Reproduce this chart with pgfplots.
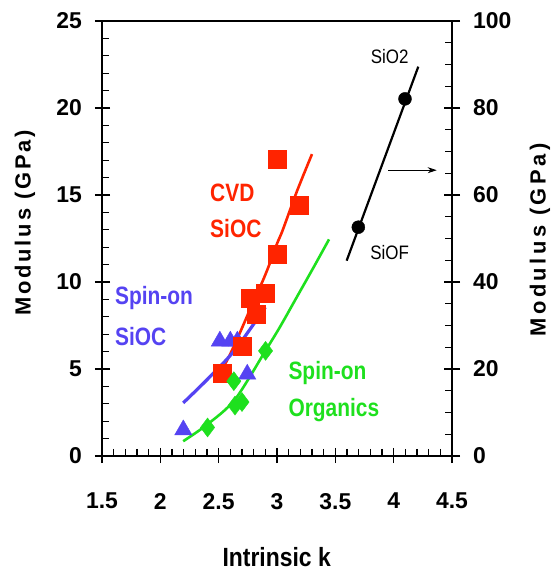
\documentclass[border=0pt]{standalone}
\usepackage{fontspec}
\setmainfont{Liberation Sans}
\usepackage{pgfplots}
\pgfplotsset{compat=1.18}
\usetikzlibrary{arrows.meta}
\definecolor{cvdred}{HTML}{FF2400}
\definecolor{soblue}{HTML}{5543F2}
\definecolor{orggreen}{HTML}{1EE01E}

\begin{document}
\begin{tikzpicture}
\useasboundingbox (-102bp,-115bp) rectangle (453bp,456bp);
\pgfplotsset{
  modaxis/.style={
    at={(0,0)}, anchor=south west,
    scale only axis, width=350bp, height=435bp,
    xmin=1.5, xmax=4.5,
    axis line style={line width=1.6bp},
    tick style={line width=1.3bp, black},
    /pgf/number format/assume math mode=true,
    ticklabel style={font=\fontsize{23}{26}\selectfont\bfseries, inner sep=0pt},
  },
  % helper axes that only draw tick marks, all pointing away from their own box
  tickonly/.style={scale only axis, anchor=south west,
    axis line style={draw=none}, tick style={line width=1.3bp, black},
    tick align=outside, xticklabels={}, yticklabels={}},
}
% left axis, GPa 0-25: frame, labels and data
\begin{axis}[
  modaxis,
  ymin=0, ymax=25,
  xtick={1.5,2,2.5,3,3.5,4,4.5},
  ytick={0,5,10,15,20,25},
  xtick pos=bottom, ytick pos=left,
  major tick length=0pt,
  xticklabel style={yshift=-37bp},
  yticklabel style={xshift=-20bp},
]
% spin-on SiOC
\addplot[only marks, mark=triangle*, mark size=10bp, color=soblue] coordinates {
  (2.51,6.6) (2.60,6.6) (2.66,6.6) (2.745,4.7) (2.197,1.5)
};
% CVD SiOC
\addplot[only marks, mark=square*, mark size=9bp, color=cvdred] coordinates {
  (2.53,4.77) (2.70,6.32) (2.77,9.05) (2.82,8.16) (2.90,9.35)
  (3.00,11.62) (3.00,17.04) (3.19,14.42)
};
\addplot[smooth, line width=2.6bp, color=cvdred] coordinates {
  (2.48,4.4) (2.58,5.6) (2.68,7.05) (2.78,8.6) (2.88,10.1)
  (2.94,11.1) (3.0,12.2) (3.05,13.0) (3.17,15.2) (3.3,17.35)
};
\addplot[smooth, line width=3.2bp, color=soblue] coordinates {
  (2.196,3.05) (2.41,4.45) (2.64,6.1) (2.9,8.55)
};
% spin-on organics
\addplot[smooth, line width=2.6bp, color=orggreen] coordinates {
  (2.196,0.85) (2.4,1.8) (2.64,3.25) (2.91,6.15) (3.024,7.4)
  (3.167,9.1) (3.31,10.8) (3.446,12.45)
};
\addplot[only marks, mark=diamond*, mark size=9.5bp, color=orggreen] coordinates {
  (2.405,1.64) (2.63,4.3) (2.64,2.9) (2.70,3.1) (2.902,6.04)
};
\begin{scope}[every node/.style={inner sep=0pt, anchor=west, yscale=1.2,
    font=\fontsize{21}{24}\selectfont\bfseries}]
  \node[text=cvdred] at (axis cs:2.426,15.12) {CVD};
  \node[text=cvdred] at (axis cs:2.426,13.08) {SiOC};
  \node[text=soblue] at (axis cs:1.611,9.08) {Spin-on};
  \node[text=soblue] at (axis cs:1.611,6.85) {SiOC};
  \node[text=orggreen] at (axis cs:3.097,4.77) {Spin-on};
  \node[text=orggreen] at (axis cs:3.097,2.64) {Organics};
\end{scope}
\end{axis}
% right axis, GPa 0-100
\begin{axis}[
  modaxis,
  ymin=0, ymax=100,
  axis x line=none, axis y line*=right,
  ytick={0,20,40,60,80,100},
  major tick length=0pt,
  yticklabel style={xshift=21bp},
]
\addplot[line width=2.2bp, black] coordinates {(3.597,44.9) (4.211,89.5)};
\addplot[only marks, mark=*, mark size=6.5bp, black] coordinates {
  (3.697,52.6) (4.097,82.1)
};
\draw[line width=0.9bp, -{Stealth[length=9bp, width=6bp]}]
  (axis cs:3.954,65.7) -- (axis cs:4.369,65.7);
\node[font=\fontsize{17}{20}\selectfont, inner sep=0pt, yscale=1.15] at (axis cs:3.966,91.8) {SiO2};
\node[font=\fontsize{17}{20}\selectfont, inner sep=0pt, yscale=1.15] at (axis cs:3.966,46.8) {SiOF};
\end{axis}
% outward stubs at the majors
\begin{axis}[tickonly, at={(0,0)}, width=350bp, height=435bp,
  xmin=1.5, xmax=4.5, ymin=0, ymax=25,
  xtick={1.5,2,2.5,3,3.5,4,4.5}, ytick={0,5,10,15,20,25},
  xtick pos=bottom, ytick pos=left, major tick length=7bp, minor tick num=0]
\end{axis}
\begin{axis}[tickonly, at={(0,0)}, width=350bp, height=435bp,
  xmin=1.5, xmax=4.5, ymin=0, ymax=100, axis x line=none,
  ytick={0,20,40,60,80,100}, ytick pos=right, major tick length=8bp,
  minor tick num=0]
\end{axis}
% inward ticks: strips just outside the frame whose outer ticks reach in
\begin{axis}[tickonly, at={(0,-50bp)}, width=350bp, height=50bp,
  xmin=1.5, xmax=4.5, ymin=0, ymax=1, ytick=\empty,
  xtick={1.5,2,2.5,3,3.5,4,4.5}, xtick pos=top,
  minor x tick num=4, major tick length=8bp, minor tick length=7bp]
\end{axis}
\begin{axis}[tickonly, at={(-50bp,0)}, width=50bp, height=435bp,
  xmin=0, xmax=1, ymin=0, ymax=25, xtick=\empty,
  ytick={0,5,10,15,20,25}, ytick pos=right,
  minor y tick num=4, major tick length=8bp, minor tick length=7bp]
\end{axis}
\begin{axis}[tickonly, at={(350bp,0)}, width=50bp, height=435bp,
  xmin=0, xmax=1, ymin=0, ymax=100, xtick=\empty,
  ytick={0,20,40,60,80,100}, ytick pos=left,
  minor y tick num=3, major tick length=8bp, minor tick length=7bp]
\end{axis}
\node[font=\fontsize{23}{26}\selectfont\bfseries, yscale=1.15] at (174.7bp,-100.7bp) {Intrinsic k};
\node[rotate=90, font=\fontsize{22}{26}\selectfont\bfseries\addfontfeature{LetterSpace=13}]
  at (-77bp,233bp) {Modulus (GPa)};
\node[rotate=90, font=\fontsize{22}{26}\selectfont\bfseries\addfontfeature{LetterSpace=16}]
  at (438bp,216bp) {Modulus (GPa)};
\end{tikzpicture}
\end{document}
